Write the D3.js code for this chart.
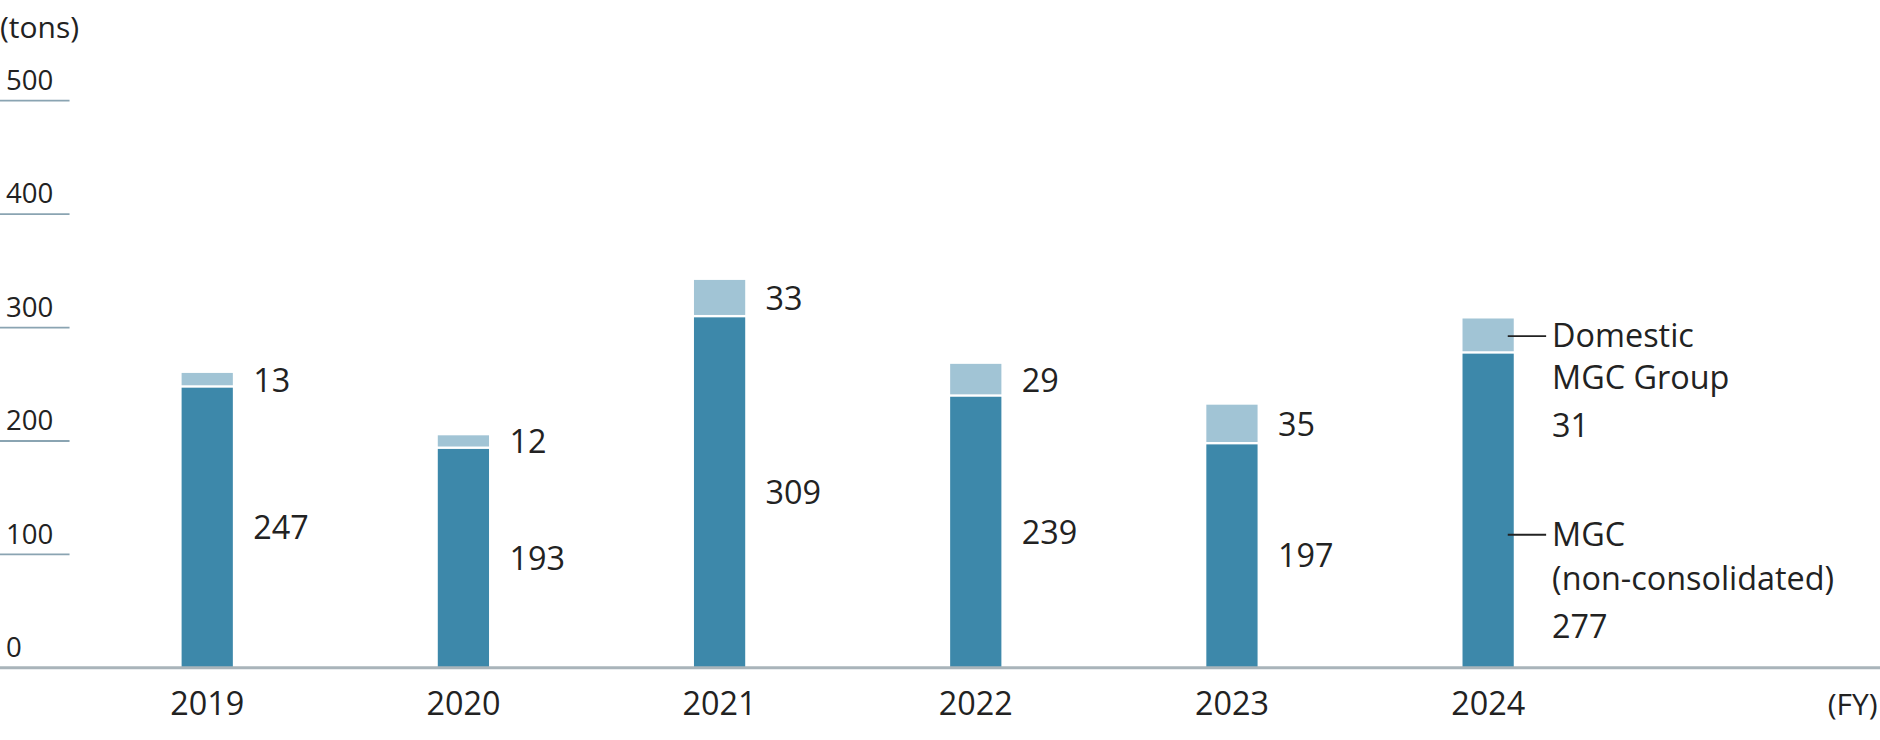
<!DOCTYPE html>
<html><head><meta charset="utf-8">
<script src="https://cdn.jsdelivr.net/npm/d3@7"></script>
<style>body{margin:0;background:#fff}text{font-family:"Open Sans",sans-serif;fill:#222}</style>
</head><body>
<script>
var years = ["2019","2020","2021","2022","2023","2024"];
var mgc = [247,193,309,239,197,277];
var domestic = [13,12,33,29,35,31];
var ticks = [0,100,200,300,400,500];

var W = 1880, H = 740, k = 1880/1568;
var svg = d3.select("body").append("svg").attr("width", W).attr("height", H)
  .append("g").attr("transform","scale(" + k + ")");

var y = d3.scaleLinear().domain([0,500]).range([557,84]);
var x = d3.scaleBand().domain(years).range([66,1348]).paddingInner(0.8).paddingOuter(0.4);

// gridline ticks
ticks.forEach(function(t){
  if (t > 0) svg.append("line").attr("x1",0).attr("x2",58).attr("y1",y(t)).attr("y2",y(t))
    .attr("stroke","#8aa4b2").attr("stroke-width",1.5);
  svg.append("text").attr("x",5).attr("y",y(t)-9).attr("font-size",23).text(t);
});
svg.append("text").attr("x",0).attr("y",32).attr("font-size",25).text("(tons)");

// bars
years.forEach(function(yr,i){
  var bx = x(yr), bw = x.bandwidth();
  svg.append("rect").attr("x",bx).attr("width",bw).attr("y",y(mgc[i])).attr("height",y(0)-y(mgc[i])).attr("fill","#3d88aa");
  svg.append("rect").attr("x",bx).attr("width",bw).attr("y",y(mgc[i]+domestic[i])).attr("height",y(0)-y(domestic[i])-2).attr("fill","#a1c4d5");
  var lx = bx + bw + 17;
  if (i < years.length-1) {
    svg.append("text").attr("x",lx).attr("y",(y(mgc[i])+y(mgc[i]+domestic[i]))/2).attr("dy","0.35em").attr("font-size",27).text(domestic[i]);
    svg.append("text").attr("x",lx).attr("y",(y(0)+y(mgc[i]))/2).attr("dy","0.35em").attr("font-size",27).text(mgc[i]);
  } else {
    var ly = (y(mgc[i])+y(mgc[i]+domestic[i]))/2;
    svg.append("line").attr("x1",bx+bw-5).attr("x2",lx+10).attr("y1",ly).attr("y2",ly).attr("stroke","#222").attr("stroke-width",1.5);
    svg.append("text").attr("x",lx+15).attr("y",ly).attr("dy","0.35em").attr("font-size",27).text("Domestic");
    svg.append("text").attr("x",lx+15).attr("y",ly+35).attr("dy","0.35em").attr("font-size",27).text("MGC Group");
    svg.append("text").attr("x",lx+15).attr("y",ly+75).attr("dy","0.35em").attr("font-size",27).text(domestic[i]);
    var my = 446;
    svg.append("line").attr("x1",bx+bw-5).attr("x2",lx+10).attr("y1",my).attr("y2",my).attr("stroke","#222").attr("stroke-width",1.5);
    svg.append("text").attr("x",lx+15).attr("y",my).attr("dy","0.35em").attr("font-size",27).text("MGC");
    svg.append("text").attr("x",lx+15).attr("y",my+37).attr("dy","0.35em").attr("font-size",27).text("(non-consolidated)");
    svg.append("text").attr("x",lx+15).attr("y",my+77).attr("dy","0.35em").attr("font-size",27).text(mgc[i]);
  }
});

// baseline + x axis labels
svg.append("line").attr("x1",0).attr("x2",1568).attr("y1",y(0)).attr("y2",y(0)).attr("stroke","#a9b4ba").attr("stroke-width",2.5);
years.forEach(function(yr){
  svg.append("text").attr("x",x(yr)+x.bandwidth()/2).attr("y",596).attr("text-anchor","middle").attr("font-size",27).text(yr);
});
svg.append("text").attr("x",1566).attr("y",596).attr("text-anchor","end").attr("font-size",25).text("(FY)");
</script>
</body></html>
